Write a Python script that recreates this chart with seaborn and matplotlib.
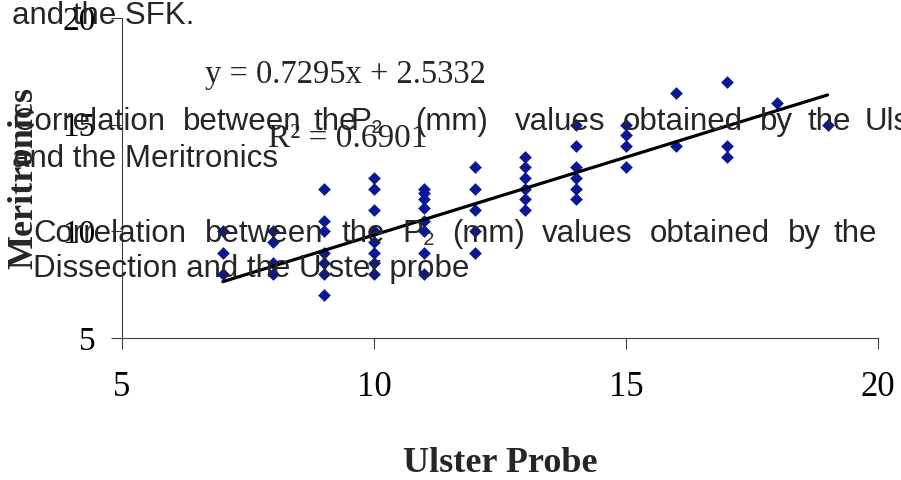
from matplotlib import pyplot as plt
import seaborn as sns
import numpy as np

# Ulster probe vs Meritronics readings (mm)
ulster = [7, 7, 7,
          8, 8, 8, 8,
          9, 9, 9, 9, 9, 9, 9,
          10, 10, 10, 10, 10, 10, 10, 10,
          11, 11, 11, 11, 11, 11, 11, 11,
          12, 12, 12, 12, 12,
          13, 13, 13, 13, 13, 13,
          14, 14, 14, 14, 14, 14,
          15, 15, 15, 15,
          16, 16,
          17, 17, 17,
          18,
          19]
meritronics = [10, 9, 8,
               10, 9.5, 8.5, 8,
               12, 10.5, 10, 9, 8.5, 8, 7,
               12.5, 12, 11, 10, 9.5, 9, 8.5, 8,
               12, 11.8, 11.5, 11.1, 10.5, 10, 9, 8,
               13, 12, 11, 10, 9,
               13.5, 13, 12.5, 12, 11.5, 11,
               15, 14, 13, 12.5, 12, 11.5,
               15, 14.5, 14, 13,
               16.5, 14,
               17, 14, 13.5,
               16,
               15]
slope = 0.7295
intercept = 2.5332
r_squared = 0.6901
x_ticks = [5, 10, 15, 20]
y_ticks = [5, 10, 15, 20]

SERIF = ["Liberation Serif", "DejaVu Serif"]
SANS = ["Liberation Sans", "DejaVu Sans"]


def put_words(fig, words, starts, y, size=22.5):
    # justified caption line: each word at its own x (pixels)
    for w, px in zip(words, starts):
        fig.text(px / 901, 1 - y / 480, w, fontsize=size, va="baseline",
                 ha="left", family=SANS, zorder=5)


def main():
    sns.set_style("white")
    plt.rcParams["font.family"] = SERIF

    fig = plt.figure(figsize=(9.01, 4.8), dpi=100)
    ax = fig.add_axes([122 / 901, 1 - 338 / 480, 756 / 901, 320 / 480])

    sns.scatterplot(x=ulster, y=meritronics, marker="D", s=42,
                    color="#0A1896", linewidth=0, ax=ax, zorder=3)
    fit_x = np.array([min(ulster), max(ulster)])
    sns.lineplot(x=fit_x, y=slope * fit_x + intercept, color="black",
                 linewidth=2.3, ax=ax, zorder=4)

    ax.set_xlim(5, 20)
    ax.set_ylim(5, 20)
    ax.set_xticks(x_ticks)
    ax.set_yticks(y_ticks)
    for side in ["top", "right"]:
        ax.spines[side].set_visible(False)
    for side in ["left", "bottom"]:
        ax.spines[side].set_color("#404040")
        ax.spines[side].set_linewidth(0.8)
    ax.tick_params(axis="both", direction="out", length=8, width=0.8,
                   color="#404040", labelcolor="black", bottom=True, left=True)
    ax.tick_params(axis="x", labelsize=25, pad=16)
    ax.tick_params(axis="y", labelsize=24, pad=11)

    ax.set_xlabel("Ulster Probe", fontsize=26, fontweight="bold")
    ax.xaxis.label.set_va("baseline")
    ax.xaxis.set_label_coords(0.5, (338 - 472) / 320)
    ax.set_ylabel("Meritronics", fontsize=26, fontweight="bold")
    ax.yaxis.set_label_coords((40 - 122) / 756, 0.5)

    # trendline equation
    fig.text(205 / 901, 1 - 83 / 480, "y = 0.7295x + 2.5332", fontsize=23.5,
             va="baseline", ha="left", family=SERIF)
    fig.text(268 / 901, 1 - 147 / 480, f"R² = {r_squared:.4f}", fontsize=24,
             va="baseline", ha="left", family=SERIF)

    # stray caption text lying over the chart
    put_words(fig, ["and the SFK."], [12], 24)
    put_words(fig, ["Correlation", "between", "the", "P₂", "(mm)", "values",
                    "obtained", "by", "the", "Uls"],
              [12, 183, 313, 350, 415, 515, 623, 760, 808, 865], 130)
    put_words(fig, ["and the Meritronics"], [12], 167)
    put_words(fig, ["Correlation", "between", "the", "P₂", "(mm)", "values",
                    "obtained", "by", "the"],
              [33, 205, 342, 402, 452, 542, 650, 788, 833], 242)
    put_words(fig, ["Dissection and the Ulster probe"], [33], 277)

    fig.savefig("out.png", dpi=100)


if __name__ == "__main__":
    main()
